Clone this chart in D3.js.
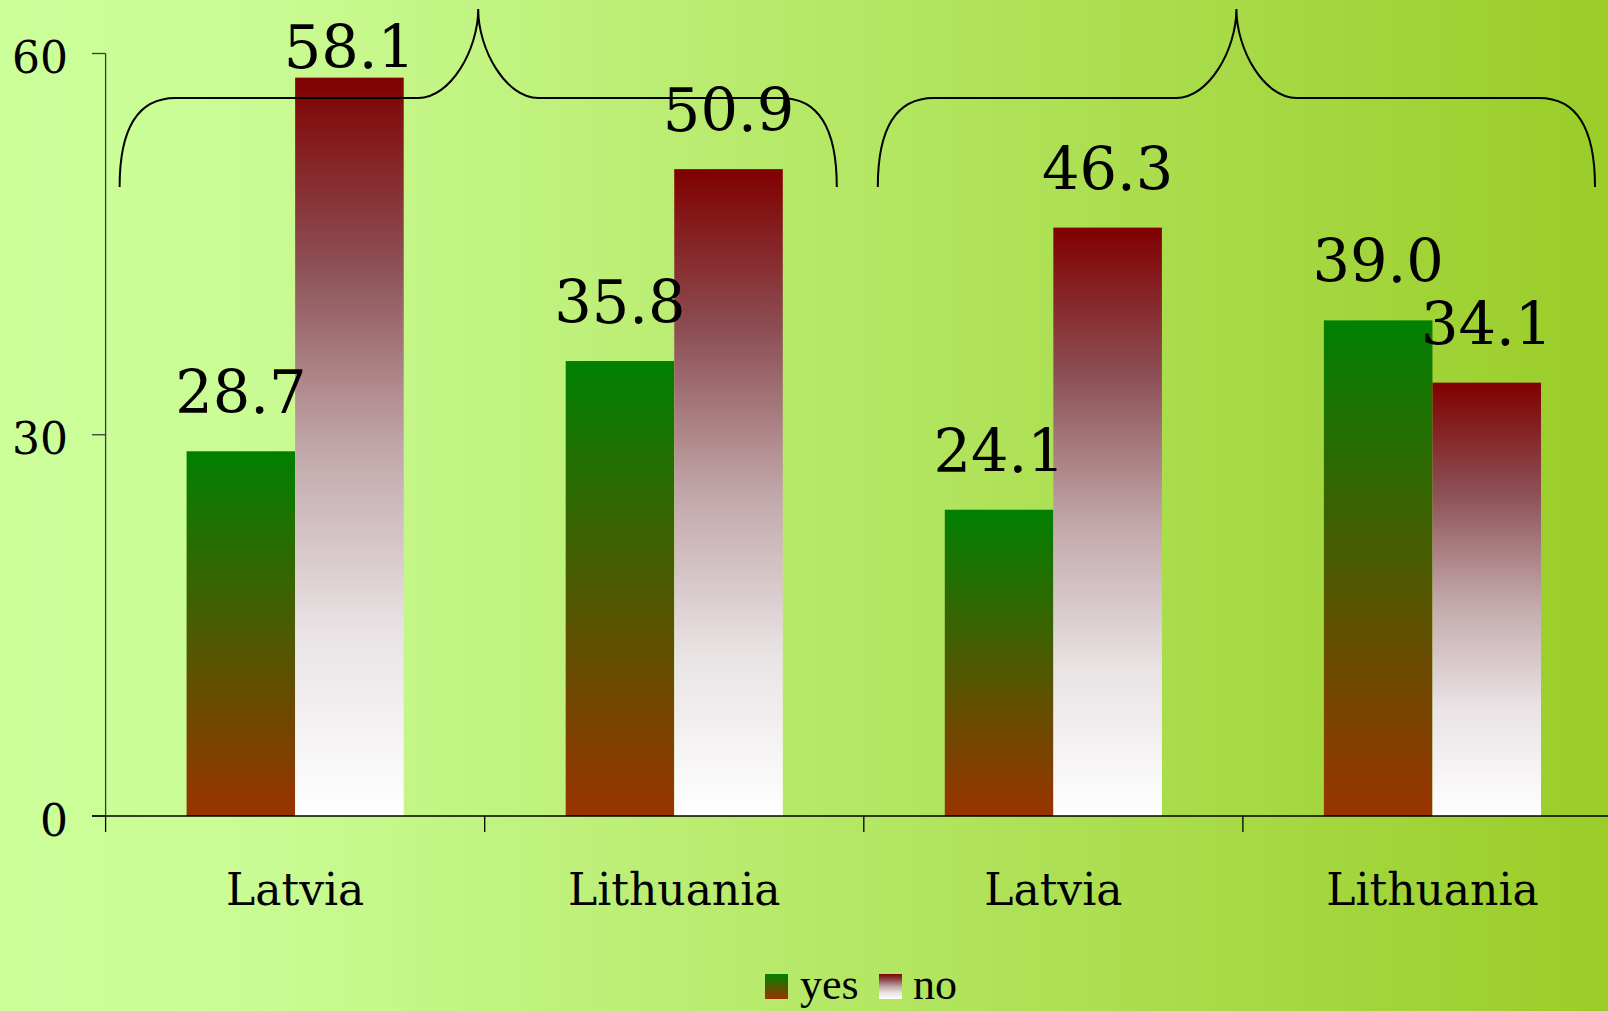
<!DOCTYPE html>
<html>
<head>
<meta charset="utf-8">
<script src="https://cdn.jsdelivr.net/npm/d3@7"></script>
<style>
  html, body { margin: 0; padding: 0; overflow: hidden; }
  svg { display: block; }
</style>
</head>
<body>
<svg id="chart" width="1608" height="1011"></svg>
<script>
// Survey answers per country, two survey groups side by side
const categories = ["Latvia", "Lithuania", "Latvia", "Lithuania"];
const series = ["yes", "no"];
const yesValues = [28.7, 35.8, 24.1, 39.0];
const noValues = [58.1, 50.9, 46.3, 34.1];
const yTicks = [0, 30, 60];
// Each brace spans a pair of categories (by index)
const braceGroups = [[0, 1], [2, 3]];

const W = 1608, H = 1011;
const svg = d3.select("#chart");
const defs = svg.append("defs");

// Background: light green on the left fading to yellow-green on the right
const bg = defs.append("linearGradient").attr("id", "bg")
  .attr("x1", "0").attr("y1", "0").attr("x2", "1").attr("y2", "0");
bg.append("stop").attr("offset", "0").attr("stop-color", "#ccff99");
bg.append("stop").attr("offset", "0.15").attr("stop-color", "#cafc95");
bg.append("stop").attr("offset", "1").attr("stop-color", "#9acd28");
svg.append("rect").attr("width", W).attr("height", H).attr("fill", "url(#bg)");

// Bar fills: vertical gradients per series
const gYes = defs.append("linearGradient").attr("id", "grad-yes")
  .attr("x1", "0").attr("y1", "0").attr("x2", "0").attr("y2", "1");
gYes.append("stop").attr("offset", "0").attr("stop-color", "#008000");
gYes.append("stop").attr("offset", "1").attr("stop-color", "#993300");

const gNo = defs.append("linearGradient").attr("id", "grad-no")
  .attr("x1", "0").attr("y1", "0").attr("x2", "0").attr("y2", "1");
[[0, "#800000"], [0.25, "#8c4f54"], [0.5, "#c1a6a9"], [0.75, "#e9e3e4"], [1, "#ffffff"]]
  .forEach(([o, c]) => gNo.append("stop").attr("offset", o).attr("stop-color", c));

const fills = { yes: "url(#grad-yes)", no: "url(#grad-no)" };
const valuesBySeries = { yes: yesValues, no: noValues };

// Scales
const x = d3.scaleBand().domain(d3.range(categories.length)).range([105.6, 1622]).padding(0);
const xs = d3.scaleBand().domain(series).range([0, x.bandwidth()])
  .paddingInner(0).paddingOuter(0.746);
const y = d3.scaleLinear().domain([0, 60]).range([816, 53.5]);

const serif = "'DejaVu Serif', serif";

// Bars
const groups = svg.append("g").selectAll("g")
  .data(categories.map((c, i) => ({ i, c })))
  .join("g")
  .attr("transform", d => `translate(${x(d.i)},0)`);

groups.selectAll("rect")
  .data(d => series.map(s => ({ s, v: valuesBySeries[s][d.i] })))
  .join("rect")
  .attr("x", d => xs(d.s))
  .attr("y", d => y(d.v))
  .attr("width", xs.bandwidth())
  .attr("height", d => y(0) - y(d.v))
  .attr("fill", d => fills[d.s]);

// Value labels above bars (kept inside the top of the chart)
groups.selectAll("text.val")
  .data(d => series.map(s => ({ s, v: valuesBySeries[s][d.i] })))
  .join("text")
  .attr("class", "val")
  .attr("x", d => xs(d.s) + xs.bandwidth() / 2)
  .attr("y", d => Math.max(y(d.v) - 38, 68))
  .attr("text-anchor", "middle")
  .attr("font-family", serif)
  .attr("font-size", 59)
  .attr("fill", "#000")
  .text(d => d.v.toFixed(1));

// Y axis
const yAxis = svg.append("g");
yAxis.append("line")
  .attr("x1", x.range()[0]).attr("x2", x.range()[0])
  .attr("y1", y(60)).attr("y2", y(0))
  .attr("stroke", "#3a3a3a").attr("stroke-width", 1.3);
yAxis.selectAll("line.tick").data(yTicks).join("line")
  .attr("class", "tick")
  .attr("x1", 92).attr("x2", x.range()[0])
  .attr("y1", d => y(d)).attr("y2", d => y(d))
  .attr("stroke", "#3a3a3a").attr("stroke-width", 1.3);
yAxis.selectAll("text").data(yTicks).join("text")
  .attr("x", 68).attr("y", d => y(d) + 19.5)
  .attr("text-anchor", "end")
  .attr("font-family", serif).attr("font-size", 44)
  .attr("fill", "#000")
  .text(d => d);

// X axis
const xAxis = svg.append("g");
xAxis.append("line")
  .attr("x1", 92).attr("x2", W)
  .attr("y1", y(0)).attr("y2", y(0))
  .attr("stroke", "#000").attr("stroke-width", 1.5);
xAxis.selectAll("line.tick").data(d3.range(categories.length)).join("line")
  .attr("class", "tick")
  .attr("x1", d => x(d)).attr("x2", d => x(d))
  .attr("y1", y(0)).attr("y2", y(0) + 16)
  .attr("stroke", "#000").attr("stroke-width", 1.3);
xAxis.selectAll("text").data(categories).join("text")
  .attr("x", (d, i) => x(i) + x.bandwidth() / 2)
  .attr("y", 905)
  .attr("text-anchor", "middle")
  .attr("font-family", serif).attr("font-size", 44)
  .attr("fill", "#000")
  .text(d => d);

// Curly braces over each pair of categories
function bracePath(x0, x1) {
  const yb = 187, yf = 98, yp = 9;
  const xm = (x0 + x1) / 2;
  const c = 56, p = 60;
  return `M${x0},${yb} C${x0},${yb - 52} ${x0 + 14},${yf} ${x0 + c},${yf}` +
    ` H${xm - p} C${xm - 28},${yf} ${xm},${yf - 48} ${xm},${yp}` +
    ` C${xm},${yf - 48} ${xm + 28},${yf} ${xm + p},${yf}` +
    ` H${x1 - c} C${x1 - 14},${yf} ${x1},${yb - 52} ${x1},${yb}`;
}
svg.append("g").selectAll("path").data(braceGroups).join("path")
  .attr("d", d => bracePath(x(d[0]) + 14, x(d[1]) + x.bandwidth() - 27))
  .attr("fill", "none").attr("stroke", "#000").attr("stroke-width", 2);

// Legend
const legend = svg.append("g");
const legendItems = [
  { s: "yes", sx: 765, tx: 800 },
  { s: "no", sx: 879, tx: 913 }
];
legend.selectAll("rect").data(legendItems).join("rect")
  .attr("x", d => d.sx).attr("y", 974)
  .attr("width", 23).attr("height", 25)
  .attr("fill", d => fills[d.s]);
legend.selectAll("text").data(legendItems).join("text")
  .attr("x", d => d.tx).attr("y", 999)
  .attr("font-family", "'Liberation Serif', serif").attr("font-size", 44)
  .attr("fill", "#000")
  .text(d => d.s);
</script>
</body>
</html>
